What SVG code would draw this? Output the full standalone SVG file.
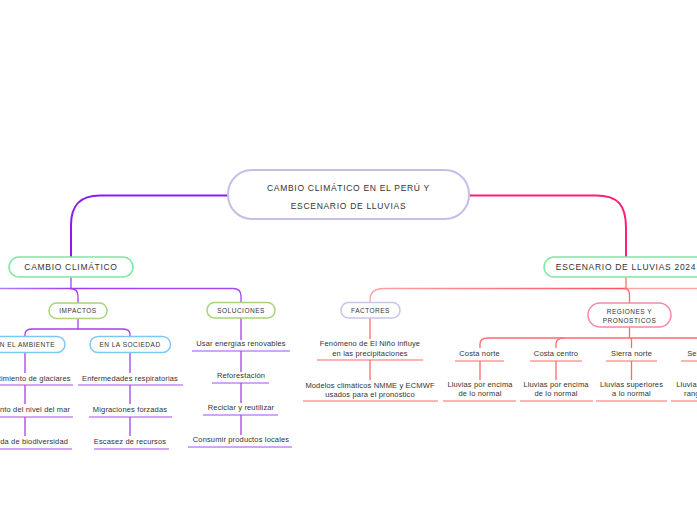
<svg xmlns="http://www.w3.org/2000/svg" width="697" height="520" viewBox="0 0 697 520">
<defs>
<linearGradient id="gf" gradientUnits="userSpaceOnUse" x1="370" y1="0" x2="626" y2="0">
<stop offset="0" stop-color="#ffa3a3"/><stop offset="1" stop-color="#ff4f5a"/>
</linearGradient>
<linearGradient id="gl" gradientUnits="userSpaceOnUse" x1="0" y1="0" x2="241" y2="0">
<stop offset="0" stop-color="#b67cff"/><stop offset="0.3" stop-color="#9d3df5"/><stop offset="1" stop-color="#a24af2"/>
</linearGradient>
</defs>
<style>
text{font-family:"Liberation Sans",Arial,sans-serif;fill:#333;text-anchor:middle}
.t0{font-size:8.5px;letter-spacing:0.7px}
.t1{font-size:8.5px;letter-spacing:0.7px}
.t2{font-size:6.5px;letter-spacing:0.5px}
.lf{font-size:7.5px;letter-spacing:0.15px}
.n{fill:#fff}
.c path{fill:none}
.pm{stroke:#8a1cf0;stroke-width:2}
.pr{stroke:#ff1f77;stroke-width:2}
.pl{stroke:#a33ff0;stroke-width:1.3}
.rl{stroke:#ff6b6b;stroke-width:1.3}
.ul{stroke:#a64df2;stroke-width:1.2}
.ur{stroke:#ff6b6b;stroke-width:1.2}
</style>
<rect width="697" height="520" fill="#fff"/>
<g id="connectors" class="c">
<path class="pm" d="M228,195.5 H100 C80,195.5 71,205 71,225 V257"/>
<path class="pr" d="M469,195.5 H596 C618,195.5 626,205 626,228 V257"/>
<path class="pl" d="M71,277 V288.5"/>
<path style="stroke:url(#gl);stroke-width:1.3" d="M-40,288.5 H233 Q241,288.5 241,296 V303"/>
<path class="pl" d="M70,288.5 Q78,288.5 78,296 V303"/>
<path class="pl" d="M78,318 V329"/>
<path class="pl" d="M25,337 V334 Q25,329 33,329 H122 Q130,329 130,334 V337"/>
<path class="pl" d="M25,353 V373 M25,385 V404 M25,417 V436"/>
<path class="pl" d="M130,353 V373 M130,385 V404 M130,417 V436"/>
<path class="pl" d="M241,318 V340 M241,351 V372 M241,383 V403 M241,415 V435"/>
<path class="rl" d="M626,277 V288.5"/>
<path style="stroke:url(#gf);stroke-width:1.3" d="M370,303 V300 Q370,288.5 384,288.5 H626"/>
<path style="stroke:#ffa5a5;stroke-width:1.3" d="M626,288.5 H760"/>
<path class="rl" d="M624,288.5 Q629.5,288.5 629.5,295 V303"/>
<path class="rl" d="M370,318 V339 M370,360 V380"/>
<path class="rl" d="M629.5,327 V338"/>
<path class="rl" d="M480,348 V344 Q480,338 488,338 H760"/>
<path class="rl" d="M564,338 Q556,338 556,344 V348"/>
<path class="rl" d="M631.5,338 V348"/>
<path class="rl" d="M699,338 Q707,338 707,344 V348"/>
<path class="rl" d="M480,361 V380 M556,361 V380 M631.5,361 V380"/>
</g>
<g id="central">
<rect class="n" x="228" y="170" width="241" height="49" rx="24" stroke="#c3bfe6" stroke-width="2"/>
<text class="t0" x="348.5" y="191">CAMBIO CLIMÁTICO EN EL PERÚ Y</text>
<text class="t0" x="348.5" y="209">ESCENARIO DE LLUVIAS</text>
</g>
<g id="cambio">
<rect class="n" x="9" y="257" width="124" height="20" rx="10" stroke="#7ee8a5" stroke-width="1.5"/>
<text class="t1" x="71" y="270">CAMBIO CLIMÁTICO</text>
</g>
<g id="impactos">
<rect class="n" x="49" y="303" width="58" height="15.5" rx="7.5" stroke="#a8d47a" stroke-width="1.5"/>
<text class="t2" x="78" y="313">IMPACTOS</text>
</g>
<g id="soluciones">
<rect class="n" x="207" y="302.5" width="68" height="15.5" rx="7.5" stroke="#a8d47a" stroke-width="1.5"/>
<text class="t2" x="241" y="312.5">SOLUCIONES</text>
</g>
<g id="ambiente">
<rect class="n" x="-15" y="336.5" width="80" height="16" rx="8" stroke="#7cc8f2" stroke-width="1.5"/>
<text class="t2" x="25" y="347">EN EL AMBIENTE</text>
</g>
<g id="sociedad">
<rect class="n" x="90" y="336.5" width="80.5" height="16" rx="8" stroke="#7cc8f2" stroke-width="1.5"/>
<text class="t2" x="130" y="347">EN LA SOCIEDAD</text>
</g>
<g id="amb-items">
<text class="lf" x="25" y="380.5">Derretimiento de glaciares</text>
<line class="ul" x1="-23" y1="385" x2="73" y2="385"/>
<text class="lf" x="25" y="411.5">Aumento del nivel del mar</text>
<line class="ul" x1="-23" y1="417" x2="73" y2="417"/>
<text class="lf" x="25" y="443.5">Pérdida de biodiversidad</text>
<line class="ul" x1="-22" y1="449" x2="72" y2="449"/>
</g>
<g id="soc-items">
<text class="lf" x="130" y="380.5">Enfermedades respiratorias</text>
<line class="ul" x1="78" y1="385" x2="183" y2="385"/>
<text class="lf" x="130" y="411.5">Migraciones forzadas</text>
<line class="ul" x1="89" y1="417" x2="172" y2="417"/>
<text class="lf" x="130" y="443.5">Escasez de recursos</text>
<line class="ul" x1="94" y1="449" x2="169" y2="449"/>
</g>
<g id="sol-items">
<text class="lf" x="241" y="345.5">Usar energías renovables</text>
<line class="ul" x1="192" y1="351" x2="290" y2="351"/>
<text class="lf" x="241" y="378">Reforestación</text>
<line class="ul" x1="212" y1="383" x2="269" y2="383"/>
<text class="lf" x="241" y="409.5">Reciclar y reutilizar</text>
<line class="ul" x1="203" y1="415" x2="278" y2="415"/>
<text class="lf" x="241" y="441.5">Consumir productos locales</text>
<line class="ul" x1="188" y1="447" x2="292" y2="447"/>
</g>
<g id="escenario">
<rect class="n" x="544" y="257" width="166" height="20" rx="10" stroke="#7ee8a5" stroke-width="1.5"/>
<text class="t1" x="626" y="270">ESCENARIO DE LLUVIAS 2024</text>
</g>
<g id="factores">
<rect class="n" x="341" y="302.5" width="59" height="15.5" rx="7.5" stroke="#c9c5ea" stroke-width="1.5"/>
<text class="t2" x="370.5" y="312.5">FACTORES</text>
</g>
<g id="fac-items">
<text class="lf" x="370" y="345.5">Fenómeno de El Niño influye</text>
<text class="lf" x="370" y="355.5">en las precipitaciones</text>
<line class="ur" x1="317" y1="360" x2="423" y2="360"/>
<text class="lf" x="370" y="387.5">Modelos climáticos NMME y ECMWF</text>
<text class="lf" x="370" y="397">usados para el pronóstico</text>
<line class="ur" x1="303" y1="401" x2="438" y2="401"/>
</g>
<g id="regiones">
<rect class="n" x="588" y="303" width="83" height="24" rx="12" stroke="#f08aa8" stroke-width="1.5"/>
<text class="t2" x="629.5" y="313.5">REGIONES Y</text>
<text class="t2" x="629.5" y="322.5">PRONOSTICOS</text>
</g>
<g id="costa-norte">
<text class="lf" x="479.5" y="355.5">Costa norte</text>
<line class="ur" x1="455" y1="361" x2="504" y2="361"/>
<text class="lf" x="480" y="386.5">Lluvias por encima</text>
<text class="lf" x="480" y="396">de lo normal</text>
<line class="ur" x1="443" y1="401" x2="516" y2="401"/>
</g>
<g id="costa-centro">
<text class="lf" x="556" y="355.5">Costa centro</text>
<line class="ur" x1="530" y1="361" x2="582" y2="361"/>
<text class="lf" x="556" y="386.5">Lluvias por encima</text>
<text class="lf" x="556" y="396">de lo normal</text>
<line class="ur" x1="520" y1="401" x2="593" y2="401"/>
</g>
<g id="sierra-norte">
<text class="lf" x="631.5" y="355.5">Sierra norte</text>
<line class="ur" x1="606" y1="361" x2="657" y2="361"/>
<text class="lf" x="631.5" y="386.5">Lluvias superiores</text>
<text class="lf" x="631.5" y="396">a lo normal</text>
<line class="ur" x1="596" y1="401" x2="667" y2="401"/>
</g>
<g id="selva">
<text class="lf" x="707" y="355.5">Selva norte</text>
<line class="ur" x1="681" y1="361" x2="733" y2="361"/>
<text class="lf" x="707" y="386.5">Lluvias dentro del</text>
<text class="lf" x="707" y="396">rango normal</text>
<line class="ur" x1="671" y1="401" x2="743" y2="401"/>
</g>
</svg>
